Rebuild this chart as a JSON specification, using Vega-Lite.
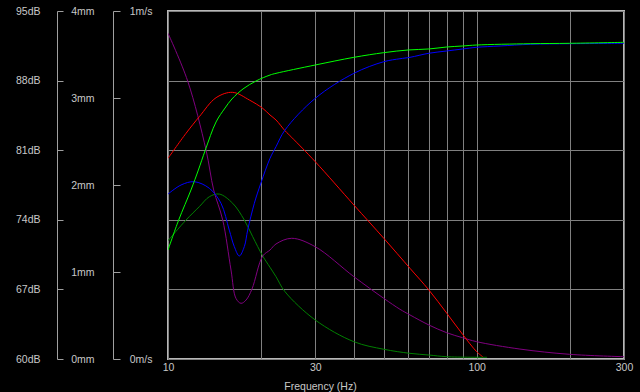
{
  "$schema": "https://vega.github.io/schema/vega-lite/v6.json",
  "width": 456,
  "height": 348,
  "autosize": "none",
  "padding": {"left": 168, "top": 11, "right": 16, "bottom": 33},
  "background": "#000000",
  "config": {
    "view": {"stroke": "#b8b8b8", "strokeWidth": 2},
    "axis": {"labelFont": "Liberation Sans", "labelFontSize": 10.5, "labelColor": "#c8c8c8", "titleFont": "Liberation Sans", "titleFontSize": 10.5, "titleColor": "#c8c8c8", "titleFontWeight": "normal"}
  },
  "layer": [
    {
      "data": {"values": [
        {"s": "dkgreen", "f": 10, "v": 71.9}, {"s": "dkgreen", "f": 11.44, "v": 73.98}, {"s": "dkgreen", "f": 12.63, "v": 75.32}, {"s": "dkgreen", "f": 13.61, "v": 76.32}, {"s": "dkgreen", "f": 14.66, "v": 76.59}, {"s": "dkgreen", "f": 16.2, "v": 75.66}, {"s": "dkgreen", "f": 17.67, "v": 73.98}, {"s": "dkgreen", "f": 18.81, "v": 72.3}, {"s": "dkgreen", "f": 20.27, "v": 70.36}, {"s": "dkgreen", "f": 21.4, "v": 69.22}, {"s": "dkgreen", "f": 22.38, "v": 68.28}, {"s": "dkgreen", "f": 23.93, "v": 66.77}, {"s": "dkgreen", "f": 30, "v": 63.92}, {"s": "dkgreen", "f": 40, "v": 61.74}, {"s": "dkgreen", "f": 50, "v": 60.98}, {"s": "dkgreen", "f": 60.8, "v": 60.57}, {"s": "dkgreen", "f": 70, "v": 60.4}, {"s": "dkgreen", "f": 80, "v": 60.23}, {"s": "dkgreen", "f": 108, "v": 60.17},
        {"s": "purple", "f": 10, "v": 92.76}, {"s": "purple", "f": 11.58, "v": 87.96}, {"s": "purple", "f": 13.28, "v": 81.02}, {"s": "purple", "f": 14.06, "v": 77.0}, {"s": "purple", "f": 15.04, "v": 73.98}, {"s": "purple", "f": 16.0, "v": 68.95}, {"s": "purple", "f": 16.6, "v": 66.1}, {"s": "purple", "f": 17.24, "v": 65.6}, {"s": "purple", "f": 17.9, "v": 65.93}, {"s": "purple", "f": 18.71, "v": 67.04}, {"s": "purple", "f": 20.27, "v": 70.36}, {"s": "purple", "f": 21.4, "v": 70.96}, {"s": "purple", "f": 22.38, "v": 71.57}, {"s": "purple", "f": 25.16, "v": 72.14}, {"s": "purple", "f": 30, "v": 71.29}, {"s": "purple", "f": 40, "v": 68.28}, {"s": "purple", "f": 50, "v": 66.1}, {"s": "purple", "f": 56.43, "v": 65.0}, {"s": "purple", "f": 60.8, "v": 64.43}, {"s": "purple", "f": 70, "v": 63.42}, {"s": "purple", "f": 80, "v": 62.64}, {"s": "purple", "f": 90, "v": 62.14}, {"s": "purple", "f": 100, "v": 61.74}, {"s": "purple", "f": 138, "v": 61.0}, {"s": "purple", "f": 200, "v": 60.47}, {"s": "purple", "f": 300, "v": 60.23},
        {"s": "red", "f": 10, "v": 80.18}, {"s": "red", "f": 11.44, "v": 82.7}, {"s": "red", "f": 12.63, "v": 84.37}, {"s": "red", "f": 14.31, "v": 86.28}, {"s": "red", "f": 16.2, "v": 86.82}, {"s": "red", "f": 18.34, "v": 86.05}, {"s": "red", "f": 20.27, "v": 85.21}, {"s": "red", "f": 21.4, "v": 84.54}, {"s": "red", "f": 22.38, "v": 84.04}, {"s": "red", "f": 23.93, "v": 82.96}, {"s": "red", "f": 25.16, "v": 82.29}, {"s": "red", "f": 30, "v": 79.84}, {"s": "red", "f": 40, "v": 75.49}, {"s": "red", "f": 50, "v": 72.14}, {"s": "red", "f": 60.8, "v": 69.12}, {"s": "red", "f": 70, "v": 66.94}, {"s": "red", "f": 80, "v": 64.6}, {"s": "red", "f": 90, "v": 62.48}, {"s": "red", "f": 100, "v": 60.73}, {"s": "red", "f": 104.6, "v": 60.23},
        {"s": "blue", "f": 10, "v": 76.59}, {"s": "blue", "f": 11.02, "v": 77.5}, {"s": "blue", "f": 12.17, "v": 77.83}, {"s": "blue", "f": 13.61, "v": 77.17}, {"s": "blue", "f": 14.85, "v": 75.66}, {"s": "blue", "f": 15.79, "v": 72.97}, {"s": "blue", "f": 16.4, "v": 71.3}, {"s": "blue", "f": 17.02, "v": 70.36}, {"s": "blue", "f": 17.67, "v": 71.3}, {"s": "blue", "f": 18.12, "v": 72.97}, {"s": "blue", "f": 19.04, "v": 75.66}, {"s": "blue", "f": 20, "v": 77.7}, {"s": "blue", "f": 21.4, "v": 80.18}, {"s": "blue", "f": 22.38, "v": 81.35}, {"s": "blue", "f": 23.93, "v": 83.03}, {"s": "blue", "f": 30, "v": 86.22}, {"s": "blue", "f": 40, "v": 88.73}, {"s": "blue", "f": 50, "v": 89.9}, {"s": "blue", "f": 56.43, "v": 90.2}, {"s": "blue", "f": 60.8, "v": 90.34}, {"s": "blue", "f": 70, "v": 90.75}, {"s": "blue", "f": 80, "v": 90.98}, {"s": "blue", "f": 90, "v": 91.18}, {"s": "blue", "f": 100, "v": 91.35}, {"s": "blue", "f": 119, "v": 91.48}, {"s": "blue", "f": 149, "v": 91.65}, {"s": "blue", "f": 200, "v": 91.71}, {"s": "blue", "f": 300, "v": 91.75},
        {"s": "green", "f": 10, "v": 70.96}, {"s": "green", "f": 10.83, "v": 73.98}, {"s": "green", "f": 11.87, "v": 77.0}, {"s": "green", "f": 12.54, "v": 79.0}, {"s": "green", "f": 13.21, "v": 81.02}, {"s": "green", "f": 14.31, "v": 83.84}, {"s": "green", "f": 15.3, "v": 85.24}, {"s": "green", "f": 16.11, "v": 86.15}, {"s": "green", "f": 17.5, "v": 87.16}, {"s": "green", "f": 19.28, "v": 87.96}, {"s": "green", "f": 21.4, "v": 88.56}, {"s": "green", "f": 22.38, "v": 88.73}, {"s": "green", "f": 30, "v": 89.57}, {"s": "green", "f": 40, "v": 90.34}, {"s": "green", "f": 50, "v": 90.81}, {"s": "green", "f": 60, "v": 91.08}, {"s": "green", "f": 70, "v": 91.18}, {"s": "green", "f": 80, "v": 91.38}, {"s": "green", "f": 90, "v": 91.48}, {"s": "green", "f": 100, "v": 91.58}, {"s": "green", "f": 149, "v": 91.71}, {"s": "green", "f": 200, "v": 91.75}, {"s": "green", "f": 300, "v": 91.85}
      ]},
      "mark": {"type": "line", "strokeWidth": 1, "interpolate": "catmull-rom", "clip": true},
      "encoding": {
        "x": {"field": "f", "type": "quantitative",
          "scale": {"type": "log", "domain": [10, 300], "nice": false},
          "axis": {"values": [10, 20, 30, 40, 50, 60, 70, 80, 90, 100, 200, 300],
            "labelExpr": "(datum.value == 10 || datum.value == 30 || datum.value == 100 || datum.value == 300) ? datum.value : ''",
            "labelFlush": false, "labelOverlap": false, "labelBound": false, "labelPadding": 3,
            "ticks": false, "tickSize": 0, "domain": false,
            "grid": true, "gridColor": "#808080", "gridWidth": 1,
            "title": "Frequency (Hz)", "titleX": 152, "titleY": 30, "titleAlign": "center", "titleBaseline": "alphabetic"}},
        "y": {"field": "v", "type": "quantitative",
          "scale": {"domain": [60, 95], "nice": false, "zero": false},
          "axis": {"orient": "left", "offset": 111, "values": [60, 67, 74, 81, 88, 95],
            "labelExpr": "datum.value + 'dB'", "tickSize": -6, "labelPadding": 23,
            "tickColor": "#a0a0a0", "domainColor": "#a0a0a0", "labelOverlap": false, "labelFlush": false,
            "grid": true, "gridColor": "#808080", "title": null}},
        "color": {"field": "s", "type": "nominal",
          "scale": {"domain": ["red", "green", "blue", "dkgreen", "purple"], "range": ["#ff0000", "#00ff00", "#0000ff", "#008000", "#800080"]},
          "legend": null}
      }
    },
    {
      "data": {"values": [{"mm": 0}, {"mm": 4}]},
      "mark": {"type": "point", "opacity": 0},
      "encoding": {
        "y": {"field": "mm", "type": "quantitative",
          "scale": {"domain": [0, 4], "nice": false},
          "axis": {"orient": "left", "offset": 55, "values": [0, 1, 2, 3, 4],
            "labelExpr": "datum.value + 'mm'", "tickSize": -7, "labelPadding": 26,
            "tickColor": "#a0a0a0", "domainColor": "#a0a0a0", "labelOverlap": false, "labelFlush": false,
            "grid": false, "title": null}}
      }
    },
    {
      "data": {"values": [{"ms": 0}, {"ms": 1}]},
      "mark": {"type": "point", "opacity": 0},
      "encoding": {
        "y": {"field": "ms", "type": "quantitative",
          "scale": {"domain": [0, 1], "nice": false},
          "axis": {"orient": "left", "offset": 0, "values": [0, 1],
            "labelExpr": "datum.value + 'm/s'", "ticks": false, "tickSize": 0, "labelPadding": 16,
            "domain": false, "labelOverlap": false, "labelFlush": false,
            "grid": false, "title": null}}
      }
    }
  ],
  "resolve": {"scale": {"y": "independent"}, "axis": {"y": "independent"}}
}
